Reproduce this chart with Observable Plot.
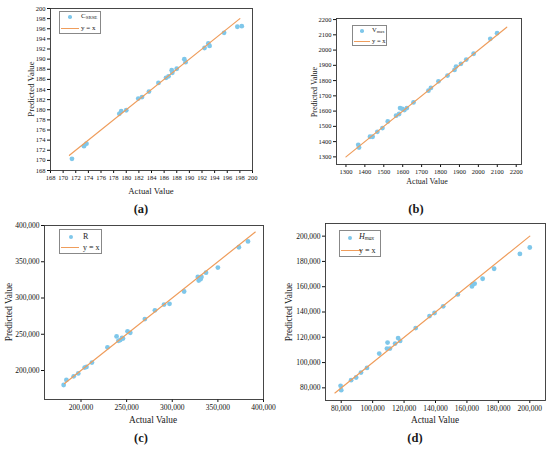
<!DOCTYPE html>
<html>
<head>
<meta charset="utf-8">
<script src="https://cdn.jsdelivr.net/npm/d3@7"></script>
<script src="https://cdn.jsdelivr.net/npm/@observablehq/plot@0.6"></script>
<style>
  body { margin: 0; background: #fff; }
  #wrap { position: relative; width: 550px; height: 450px; font-family: "Liberation Serif", "DejaVu Serif", serif; color: #1a1a1a; }
  .t { position: absolute; white-space: nowrap; transform: translate(-50%, -50%); line-height: 1; }
  .rot { transform: translate(-50%, -50%) rotate(-90deg); }
  .pl { font-weight: bold; font-size: 12.5px; }
  .leg { position: absolute; border: 0.8px solid #888; background: #fff; font-size: 7px; line-height: 1; }
  .row { position: absolute; left: 0; display: flex; align-items: center; white-space: nowrap; }
  .dot { display: inline-block; border-radius: 50%; background: #7fc7ea; }
  .ln { display: inline-block; height: 0; border-top: 1.2px solid #ef9d5c; }
  sub { font-size: 0.7em; vertical-align: -0.25em; }
  svg { position: absolute; overflow: visible; }
  svg text { font-family: "Liberation Serif", "DejaVu Serif", serif; }
</style>
</head>
<body>
<div id="wrap"></div>
<script>
// ---------- data ----------
// (a) C_SRSE
const actualA = [171.4, 173.3, 173.7, 178.9, 179.2, 180.0, 181.9, 182.5, 183.6, 185.1, 186.3, 186.7, 187.2, 187.3, 188.0, 189.2, 189.4, 192.4, 193.0, 193.2, 195.5, 197.6, 198.3];
const predA   = [170.3, 172.8, 173.3, 179.2, 179.7, 179.9, 182.2, 182.5, 183.6, 185.3, 186.3, 186.6, 187.8, 187.3, 188.1, 190.0, 189.4, 192.2, 193.1, 192.6, 195.2, 196.4, 196.5];
const lineA = [171, 198];
const ticksA = [168, 170, 172, 174, 176, 178, 180, 182, 184, 186, 188, 190, 192, 194, 196, 198, 200];

// (b) V_max
const actualB = [1365, 1369, 1427, 1441, 1466, 1493, 1521, 1565, 1581, 1586, 1598, 1609, 1622, 1657, 1736, 1749, 1789, 1837, 1874, 1882, 1908, 1936, 1975, 2063, 2099];
const predB   = [1379, 1361, 1432, 1432, 1464, 1489, 1532, 1570, 1581, 1620, 1614, 1607, 1620, 1657, 1734, 1752, 1795, 1833, 1870, 1892, 1910, 1938, 1976, 2074, 2111];
const lineB = [1300, 2150];
const ticksB = [1300, 1400, 1500, 1600, 1700, 1800, 1900, 2000, 2100, 2200];

// (c) R
const actualC = [181000, 184000, 192000, 197000, 204000, 206000, 212000, 229000, 239000, 241000, 243000, 245000, 246000, 251000, 254000, 270000, 281000, 291000, 297000, 313000, 328000, 329000, 331000, 332000, 337000, 350000, 373000, 383000];
const predC   = [180000, 187000, 192000, 196000, 204000, 205000, 211000, 232000, 247000, 241000, 242000, 245000, 244000, 254000, 252000, 271000, 283000, 291000, 292000, 309000, 329000, 324000, 326000, 329000, 335000, 342000, 370000, 378000];
const lineC = [182000, 391000];
const ticksC = [200000, 250000, 300000, 350000, 400000];

// (d) H_max
const actualD = [79600, 80000, 86300, 89500, 92600, 96400, 104200, 109500, 109100, 111000, 114300, 116200, 117500, 127400, 136200, 139400, 144900, 154200, 163200, 163600, 164900, 170000, 177300, 193700, 200000];
const predD   = [81600, 78200, 86100, 88200, 92100, 95800, 107100, 115800, 111100, 111100, 115000, 119400, 117100, 127300, 136800, 139200, 144500, 153900, 160200, 161800, 162400, 166300, 174200, 186000, 191000];
const lineD = [76000, 200000];
const ticksD = [80000, 100000, 120000, 140000, 160000, 180000, 200000];

const blue = "#7fc7ea";
const orange = "#ef9d5c";
const wrap = document.getElementById("wrap");

function panel({actual, pred, line, ticks, xDomain, yDomain, left, top, width, height, margins, fontSize, fmt}) {
  const data = actual.map((a, i) => ({a, p: pred[i]}));
  const svg = Plot.plot({
    width, height,
    marginLeft: margins[0], marginRight: margins[1], marginTop: margins[2], marginBottom: margins[3],
    style: {fontFamily: "Liberation Serif, serif", fontSize: fontSize + "px", color: "#111", background: "transparent", overflow: "visible"},
    x: {domain: xDomain},
    y: {domain: yDomain},
    marks: [
      Plot.axisX({ticks, tickFormat: fmt, tickSize: 3, tickPadding: 2, label: null, fill: "#111"}),
      Plot.axisY({ticks, tickFormat: fmt, tickSize: 3, tickPadding: 2, label: null, fill: "#111"}),
      Plot.dot(data, {x: "a", y: "p", r: 2.4, fill: blue, stroke: "none"}),
      Plot.line(line, {x: d => d, y: d => d, stroke: orange, strokeWidth: 1.2}),
      Plot.frame({stroke: "#333", strokeWidth: 0.9})
    ]
  });
  svg.style.left = left + "px";
  svg.style.top = top + "px";
  wrap.appendChild(svg);
}

const plain = d => String(d);
const comma = d3.format(",");

panel({actual: actualA, pred: predA, line: lineA, ticks: ticksA, xDomain: [168, 200], yDomain: [168, 200],
  left: 0, top: 0, width: 275, height: 225, margins: [50, 23, 8, 55], fontSize: 6.5, fmt: plain});
panel({actual: actualB, pred: predB, line: lineB, ticks: ticksB, xDomain: [1250, 2228], yDomain: [1250, 2207],
  left: 275, top: 0, width: 275, height: 225, margins: [61, 29, 18, 61], fontSize: 6.5, fmt: plain});
panel({actual: actualC, pred: predC, line: lineC, ticks: ticksC, xDomain: [160000, 400000], yDomain: [160000, 400000],
  left: 0, top: 215, width: 275, height: 235, margins: [44, 12, 10, 51], fontSize: 7.5, fmt: comma});
panel({actual: actualD, pred: predD, line: lineD, ticks: ticksD, xDomain: [70000, 210000], yDomain: [70000, 210000],
  left: 275, top: 215, width: 275, height: 235, margins: [50, 5, 8, 50], fontSize: 7.5, fmt: comma});

// ---------- text ----------
function txt(html, x, y, size, cls) {
  const d = document.createElement("div");
  d.className = "t " + (cls || "");
  d.style.left = x + "px";
  d.style.top = y + "px";
  if (size) d.style.fontSize = size + "px";
  d.innerHTML = html;
  wrap.appendChild(d);
}
txt("Predicted Value", 31, 89, 8.8, "rot");
txt("Actual Value", 151, 191, 8.8);
txt("(a)", 141, 209, 12.5, "pl");

txt("Predicted Value", 315, 92, 8, "rot");
txt("Actual Value", 427, 182, 8);
txt("(b)", 416, 209, 12.5, "pl");

txt("Predicted Value", 10, 312, 9.3, "rot");
txt("Actual Value", 153, 421, 9.3);
txt("(c)", 141, 438, 12.5, "pl");

txt("Predicted Value", 290, 312, 9.3, "rot");
txt("Actual Value", 435, 421, 9.3);
txt("(d)", 415, 438, 12.5, "pl");

// ---------- legends ----------
function legend({x, y, w, h, label, size, dotX, dotY, lineY, lineW, textX, r}) {
  const box = document.createElement("div");
  box.className = "leg";
  box.style.left = x + "px"; box.style.top = y + "px";
  box.style.width = w + "px"; box.style.height = h + "px";
  box.style.fontSize = size + "px";
  const row1 = document.createElement("div");
  row1.className = "row";
  row1.style.top = (dotY - y - size * 0.6) + "px";
  row1.style.height = (size * 1.2) + "px";
  row1.innerHTML = `<span class="dot" style="width:${2*r}px;height:${2*r}px;margin-left:${dotX - x - r}px"></span><span style="position:absolute;left:${textX - x}px">${label}</span>`;
  const row2 = document.createElement("div");
  row2.className = "row";
  row2.style.top = (lineY - y - size * 0.6) + "px";
  row2.style.height = (size * 1.2) + "px";
  row2.innerHTML = `<span class="ln" style="width:${lineW}px;margin-left:1px"></span><span style="position:absolute;left:${textX - x}px">y = x</span>`;
  box.appendChild(row1); box.appendChild(row2);
  wrap.appendChild(box);
}
legend({x: 59, y: 11, w: 40, h: 21, label: "C<sub>SRSE</sub>", size: 7, dotX: 69, dotY: 16, lineY: 28, lineW: 18, textX: 80, r: 1.8});
legend({x: 352, y: 25, w: 33, h: 19, label: "V<sub>max</sub>", size: 6.5, dotX: 361, dotY: 30, lineY: 40.5, lineW: 16, textX: 371, r: 1.8});
legend({x: 59, y: 229, w: 41, h: 23, label: "R", size: 8, dotX: 70, dotY: 236.5, lineY: 247, lineW: 18, textX: 82, r: 2});
legend({x: 339, y: 230, w: 40, h: 25, label: "<i>H</i><sub><i>max</i></sub>", size: 8, dotX: 349, dotY: 237, lineY: 250, lineW: 21, textX: 358, r: 2});
</script>
</body>
</html>
